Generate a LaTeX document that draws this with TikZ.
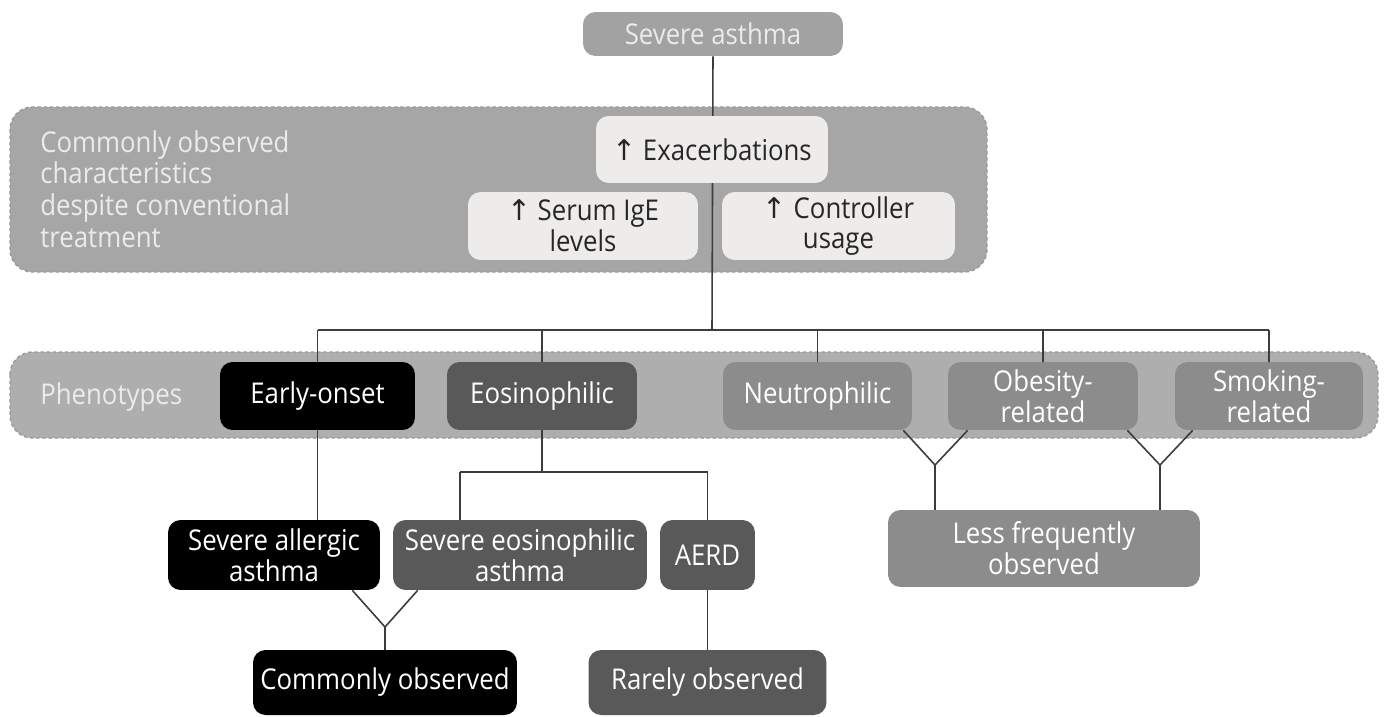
\documentclass[tikz,border=0pt]{standalone}
\usepackage{fontspec}
\setmainfont{Open Sans}[FakeStretch=0.9]
\newfontfamily\arrowfont{DejaVu Sans}
\usetikzlibrary{positioning,calc}

\definecolor{bandgray}{HTML}{A6A6A6}
\definecolor{phenogray}{HTML}{AEAEAE}
\definecolor{bandedge}{HTML}{9A9A9A}
\definecolor{linegray}{HTML}{3C3C3C}
\definecolor{topgray}{HTML}{A2A2A2}
\definecolor{paper}{HTML}{EEECEA}
\definecolor{darkfill}{HTML}{595959}
\definecolor{midfill}{HTML}{8C8C8C}
\definecolor{softtext}{HTML}{EBEBEB}

\pgfdeclarelayer{bands}
\pgfdeclarelayer{wires}
\pgfsetlayers{bands,wires,main}

\newcommand{\up}{{\arrowfont\char"2191}\ }

\tikzset{
  % connector line
  wire/.style = {
    draw = linegray,
    line width = 0.9pt
  },
  % dashed background strip
  band/.style = {
    draw = bandedge,
    dash pattern = on 2pt off 1.5pt,
    line width = 0.8pt,
    rounded corners = 4.5mm
  },
  % rounded box, common part
  box/.style = {
    rectangle,
    rounded corners = 2.5mm,
    inner sep = 0,
    align = center,
    font = \fontsize{16.3}{17.5}\selectfont
  },
  % severe asthma at the top
  topbox/.style = {box, fill = topgray, text = softtext},
  % characteristics
  lightbox/.style = {box, fill = paper, text = black!85},
  % early-onset branch
  blackbox/.style = {box, fill = black, text = white},
  % eosinophilic branch
  darkbox/.style = {box, fill = darkfill, text = white},
  % other phenotypes
  midbox/.style = {box, fill = midfill, text = white},
  % label on a strip
  bandlabel/.style = {
    anchor = west,
    inner sep = 0,
    align = left,
    text = softtext,
    font = \fontsize{16.3}{18}\selectfont
  }
}

\begin{document}
\begin{tikzpicture}[x=0.02cm, y=-0.02cm]
    \useasboundingbox (0,0) rectangle (1384,717);

    \node[topbox, minimum width=5.2cm, minimum height=0.88cm] (severe) at (713,34) {Severe asthma};

    % characteristics
    \node[lightbox, minimum width=4.64cm, minimum height=1.34cm] (exac) at (712,149.5) {\up Exacerbations};
    \node[lightbox, minimum width=4.6cm, minimum height=1.36cm] (serum) at (583,226) {\up Serum IgE\\levels};
    \node[lightbox, minimum width=4.66cm, minimum height=1.36cm] (ctrl) at (838.5,226) {\up Controller\\usage};
    \node[bandlabel] (charlabel) at (40,189) {Commonly observed\\characteristics\\despite conventional\\treatment};

    % phenotypes
    \node[bandlabel] (phenolabel) at (40,397) {Phenotypes};
    \node[blackbox, minimum width=3.9cm, minimum height=1.36cm] (early) at (317.5,396) {Early-onset};
    \node[darkbox, minimum width=3.8cm, minimum height=1.36cm] (eos) at (542,396) {Eosinophilic};
    \node[midbox, minimum width=3.78cm, minimum height=1.36cm] (neut) at (817.5,396) {Neutrophilic};
    \node[midbox, minimum width=3.8cm, minimum height=1.36cm] (obes) at (1043,396) {Obesity-\\related};
    \node[midbox, minimum width=3.76cm, minimum height=1.36cm] (smok) at (1269,396) {Smoking-\\related};

    % asthma types
    \node[blackbox, minimum width=4.24cm, minimum height=1.4cm] (saa) at (274,555) {Severe allergic\\asthma};
    \node[darkbox, minimum width=5.08cm, minimum height=1.4cm] (sea) at (520,555) {Severe eosinophilic\\asthma};
    \node[darkbox, minimum width=1.9cm, minimum height=1.4cm] (aerd) at (707.5,555) {AERD};
    \node[midbox, minimum width=6.24cm, minimum height=1.54cm] (less) at (1044,548.5) {Less frequently\\observed};

    % frequency
    \node[blackbox, minimum width=5.28cm, minimum height=1.3cm] (common) at (385,682.5) {Commonly observed};
    \node[darkbox, minimum width=4.76cm, minimum height=1.3cm] (rare) at (707.5,682.5) {Rarely observed};

    \coordinate (hub) at (712,330);
    \coordinate (eosl) at (460,472);
    \coordinate (eosr) at (707.5,472);
    \coordinate (commonj) at (385,627);
    \coordinate (lessl) at (935,465);
    \coordinate (lessr) at (1160,465);

    % strips
    \begin{pgfonlayer}{bands}
      \path[band, fill=bandgray] (10,107) rectangle (987,272);
      \path[band, fill=phenogray] (10,352) rectangle (1378,438);
    \end{pgfonlayer}

    % tree lines
    \begin{pgfonlayer}{wires}
      \draw[wire] (severe.south) -- (hub);
      \draw[wire] (early.north |- hub) -- (smok.north |- hub);
      \foreach \n in {early,eos,neut,obes,smok}
        \draw[wire] (\n.north |- hub) -- (\n.north);

      \draw[wire] (early.south) -- (early.south |- saa.north);

      \draw[wire] (eos.south) -- (eos.south |- eosl);
      \draw[wire] (eosl) -- (eosr);
      \draw[wire] (eosl) -- (eosl |- sea.north);
      \draw[wire] (eosr) -- (aerd.north);

      \draw[wire] ($(saa.south east)+(-28,0)$) -- (commonj) -- ($(sea.south west)+(25,0)$);
      \draw[wire] (commonj) -- (common.north);
      \draw[wire] (aerd.south) -- (rare.north);

      \draw[wire] ($(neut.south east)+(-9,0)$) -- (lessl) -- ($(obes.south west)+(20,0)$);
      \draw[wire] (lessl) -- (lessl |- less.north);
      \draw[wire] ($(obes.south east)+(-11,0)$) -- (lessr) -- ($(smok.south west)+(18,0)$);
      \draw[wire] (lessr) -- (lessr |- less.north);
    \end{pgfonlayer}
  \end{tikzpicture}
\end{document}
